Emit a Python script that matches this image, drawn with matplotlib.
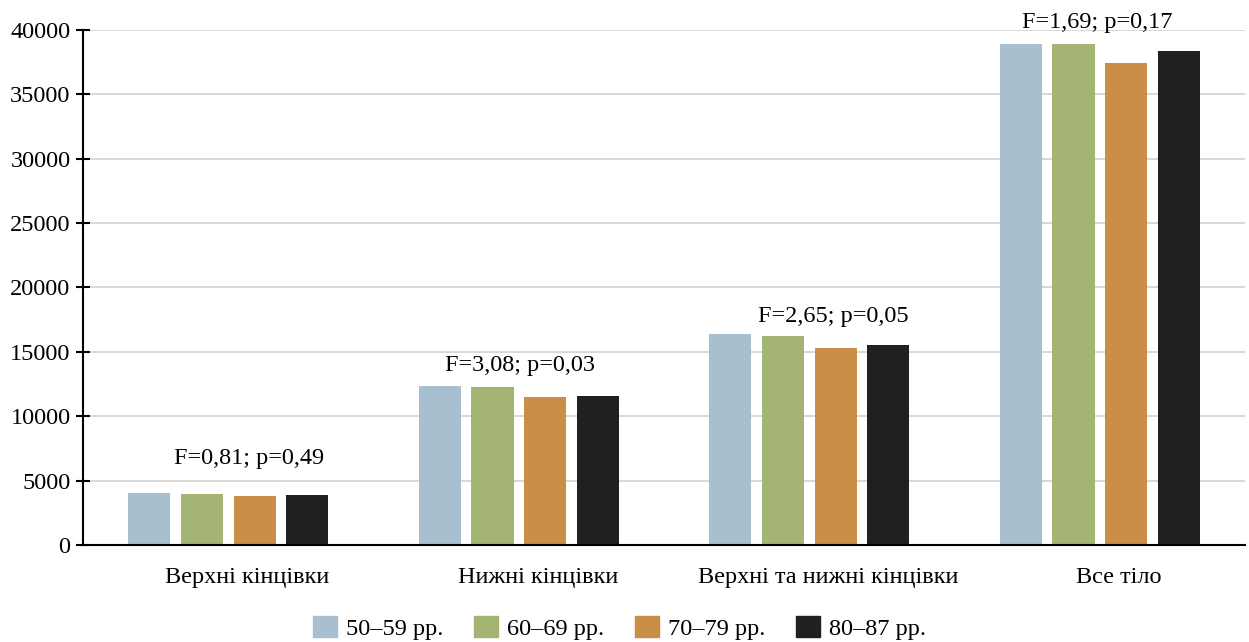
import numpy as np
import matplotlib.pyplot as plt
from matplotlib.patches import Patch

# body region categories and age groups
regions = ['Верхні кінцівки', 'Нижні кінцівки',
           'Верхні та нижні кінцівки', 'Все тіло']
ages = ['50–59 рр.', '60–69 рр.', '70–79 рр.', '80–87 рр.']

# mean values per age group, one list per group (order follows regions)
age_50_59 = [4010, 12360, 16420, 38880]
age_60_69 = [3930, 12250, 16260, 38930]
age_70_79 = [3780, 11500, 15330, 37410]
age_80_87 = [3860, 11580, 15540, 38340]

# ANOVA results written above each group
f_values = ['0,81', '3,08', '2,65', '1,69']
p_values = ['0,49', '0,03', '0,05', '0,17']

colors = ['#a8bfcf', '#a4b573', '#c98e47', '#1f201f']

plt.rcParams['font.family'] = ['Liberation Serif', 'DejaVu Serif']
plt.rcParams['font.size'] = 17.5

fig = plt.figure(figsize=(12.49, 6.42), dpi=100)
ax = fig.add_axes([0.0665, 0.1511, 0.9303, 0.8022])

x = np.arange(len(regions))
width = 0.145
step = 0.181
series = [age_50_59, age_60_69, age_70_79, age_80_87]
for i, vals in enumerate(series):
    ax.bar(x + (i - 1.5) * step, vals, width, color=colors[i],
           label=ages[i], zorder=3)

# text offsets in points (dx, dy above the tallest bar)
note_dx = [15, 1, 17, -2]
note_dy = [21, 11, 8, 11]
for i in range(len(regions)):
    top = max(s[i] for s in series)
    ax.annotate('F=%s; p=%s' % (f_values[i], p_values[i]),
                xy=(x[i], top), xytext=(note_dx[i], note_dy[i]),
                textcoords='offset points', ha='center', va='baseline',
                annotation_clip=False)

ax.set_xlim(-0.5, 3.5)
ax.set_ylim(0, 40000)
ax.set_yticks(np.arange(0, 40001, 5000))
ax.set_xticks(x + 0.065)
ax.set_xticklabels(regions)
ax.tick_params(axis='x', length=0, pad=16)
ax.tick_params(axis='y', direction='inout', length=10, width=1.5, pad=4)

ax.grid(axis='y', color='#d6d6d6', linewidth=1.3, zorder=0)
for side in ['top', 'right']:
    ax.spines[side].set_visible(False)
for side in ['left', 'bottom']:
    ax.spines[side].set_linewidth(1.5)
    ax.spines[side].set_zorder(4)

handles = [Patch(color=c) for c in colors]
fig.legend(handles, ages, loc='center', bbox_to_anchor=(0.496, 0.022),
           ncol=4, frameon=False, handlelength=0.97, handleheight=0.93,
           handletextpad=0.38, columnspacing=1.27, borderpad=0)

fig.savefig('out.png', dpi=100)
